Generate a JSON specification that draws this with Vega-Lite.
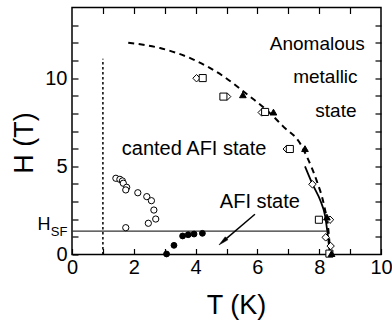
{
  "$schema": "https://vega.github.io/schema/vega-lite/v6.json",
  "width": 309,
  "height": 247,
  "autosize": "none",
  "padding": {"left": 72, "top": 7.5, "right": 11, "bottom": 69.5},
  "config": {
    "font": "Liberation Sans",
    "view": {"stroke": "black", "strokeWidth": 1.5},
    "axis": {
      "domain": false,
      "grid": false,
      "tickColor": "black",
      "tickWidth": 1.2,
      "tickSize": -6,
      "labelFont": "Liberation Sans",
      "labelFontSize": 20,
      "labelColor": "black",
      "labelOverlap": false,
      "labelFlush": false,
      "titleFont": "Liberation Sans",
      "titleFontSize": 27,
      "titleFontWeight": "normal",
      "titleColor": "black"
    }
  },
  "datasets": {
    "boundary_dashed": [
      {"i": 0, "T": 1.82, "H": 12.0},
      {"i": 1, "T": 2.85, "H": 11.7},
      {"i": 2, "T": 3.93, "H": 11.05},
      {"i": 3, "T": 4.9, "H": 10.1},
      {"i": 4, "T": 5.76, "H": 8.95},
      {"i": 5, "T": 6.3, "H": 8.19},
      {"i": 6, "T": 6.84, "H": 7.25},
      {"i": 7, "T": 7.38, "H": 6.3},
      {"i": 8, "T": 7.6, "H": 5.55},
      {"i": 9, "T": 7.92, "H": 4.17},
      {"i": 10, "T": 8.16, "H": 2.76},
      {"i": 11, "T": 8.3, "H": 1.34},
      {"i": 12, "T": 8.36, "H": 0.0}
    ],
    "boundary_solid": [
      {"i": 0, "T": 7.54, "H": 5.0},
      {"i": 1, "T": 7.78, "H": 4.0},
      {"i": 2, "T": 8.05, "H": 3.0},
      {"i": 3, "T": 8.19, "H": 2.2},
      {"i": 4, "T": 8.27, "H": 1.2},
      {"i": 5, "T": 8.33, "H": 0.3},
      {"i": 6, "T": 8.35, "H": 0.0}
    ],
    "points": [
      {"kind": "diamond", "T": 4.03, "H": 9.99},
      {"kind": "diamond", "T": 5.02, "H": 8.95},
      {"kind": "diamond", "T": 6.14, "H": 8.05},
      {"kind": "diamond", "T": 6.95, "H": 5.98},
      {"kind": "diamond", "T": 7.78, "H": 3.98},
      {"kind": "diamond", "T": 8.35, "H": 1.97},
      {"kind": "diamond", "T": 8.21, "H": 0.97},
      {"kind": "diamond", "T": 8.37, "H": 0.48},
      {"kind": "square", "T": 4.23, "H": 10.0},
      {"kind": "square", "T": 4.9, "H": 8.95},
      {"kind": "square", "T": 6.25, "H": 8.08},
      {"kind": "square", "T": 7.05, "H": 5.98},
      {"kind": "square", "T": 7.99, "H": 1.97},
      {"kind": "square", "T": 8.33, "H": 0.05},
      {"kind": "triangle", "T": 5.53, "H": 9.05},
      {"kind": "triangle", "T": 6.52, "H": 8.07},
      {"kind": "triangle", "T": 7.54, "H": 6.0},
      {"kind": "triangle", "T": 8.25, "H": 2.12},
      {"kind": "triangle", "T": 8.4, "H": 0.05},
      {"kind": "ring", "T": 1.42, "H": 4.32},
      {"kind": "ring", "T": 1.55, "H": 4.26},
      {"kind": "ring", "T": 1.63, "H": 4.17},
      {"kind": "ring", "T": 1.66, "H": 4.04},
      {"kind": "ring", "T": 1.77, "H": 3.81},
      {"kind": "ring", "T": 1.74, "H": 3.66},
      {"kind": "ring", "T": 2.13, "H": 3.5},
      {"kind": "ring", "T": 2.42, "H": 3.28},
      {"kind": "ring", "T": 2.57, "H": 3.05},
      {"kind": "ring", "T": 2.65, "H": 2.52},
      {"kind": "ring", "T": 2.71, "H": 2.01},
      {"kind": "ring", "T": 2.47, "H": 1.77},
      {"kind": "ring", "T": 1.74, "H": 1.52},
      {"kind": "dot", "T": 3.06, "H": 0.03},
      {"kind": "dot", "T": 3.3, "H": 0.52},
      {"kind": "dot", "T": 3.58, "H": 1.05},
      {"kind": "dot", "T": 3.76, "H": 1.12},
      {"kind": "dot", "T": 3.95, "H": 1.16},
      {"kind": "dot", "T": 4.22, "H": 1.2}
    ],
    "labels": [
      {"text": "Anomalous", "T": 7.94, "H": 11.59, "size": 19},
      {"text": "metallic", "T": 8.2, "H": 9.7, "size": 19},
      {"text": "state", "T": 8.54, "H": 7.81, "size": 19},
      {"text": "canted AFI state", "T": 3.95, "H": 5.64, "size": 20},
      {"text": "AFI state", "T": 6.08, "H": 2.62, "size": 20},
      {"text": "H", "T": -0.91, "H": 1.39, "size": 18},
      {"text": "SF", "T": -0.42, "H": 1.05, "size": 13}
    ]
  },
  "layer": [
    {
      "data": {"name": "boundary_dashed"},
      "mark": {"type": "line", "color": "black", "strokeWidth": 2, "strokeDash": [6, 4.5], "interpolate": "monotone"},
      "encoding": {
        "x": {
          "field": "T", "type": "quantitative",
          "scale": {"domain": [0, 10], "nice": false},
          "axis": {
            "orient": "bottom",
            "values": [0, 1, 2, 3, 4, 5, 6, 7, 8, 9, 10],
            "labelExpr": "datum.value % 2 === 0 ? datum.label : ''",
            "labelPadding": 9,
            "title": "T (K)",
            "titleX": 164,
            "titleY": 58.5,
            "titleBaseline": "alphabetic"
          }
        },
        "y": {
          "field": "H", "type": "quantitative",
          "scale": {"domain": [0, 14], "nice": false},
          "axis": {
            "orient": "left",
            "values": [0, 1, 2, 3, 4, 5, 6, 7, 8, 9, 10, 11, 12, 13],
            "labelExpr": "datum.value % 5 === 0 ? datum.label : ''",
            "labelPadding": 11,
            "title": "H (T)",
            "titleX": -40,
            "titleY": 135,
            "titleAngle": -90,
            "titleAlign": "center",
            "titleBaseline": "alphabetic"
          }
        },
        "order": {"field": "i", "type": "quantitative"}
      }
    },
    {
      "data": {"values": [{"T": 1, "H0": 0, "H1": 11.1}]},
      "mark": {"type": "rule", "color": "black", "strokeWidth": 1.5, "strokeDash": [2.5, 2.5]},
      "encoding": {
        "x": {
          "field": "T", "type": "quantitative",
          "axis": {"orient": "top", "values": [1, 2, 3, 4, 5, 6, 7, 8, 9], "labels": false, "title": null}
        },
        "y": {
          "field": "H0", "type": "quantitative",
          "axis": {"orient": "right", "values": [1, 2, 3, 4, 5, 6, 7, 8, 9, 10, 11, 12, 13], "labels": false, "title": null}
        },
        "y2": {"field": "H1"}
      }
    },
    {
      "data": {"values": [{"T0": 0, "T1": 8.24, "H": 1.33}]},
      "mark": {"type": "rule", "color": "#333333", "strokeWidth": 1.2},
      "encoding": {
        "x": {"field": "T0", "type": "quantitative", "axis": null},
        "x2": {"field": "T1"},
        "y": {"field": "H", "type": "quantitative", "axis": null}
      }
    },
    {
      "data": {"name": "boundary_solid"},
      "mark": {"type": "line", "color": "black", "strokeWidth": 1.8, "interpolate": "monotone"},
      "encoding": {
        "x": {"field": "T", "type": "quantitative", "axis": null},
        "y": {"field": "H", "type": "quantitative", "axis": null},
        "order": {"field": "i", "type": "quantitative"}
      }
    },
    {
      "data": {"values": [{"T0": 5.92, "H0": 2.28, "T1": 4.88, "H1": 0.73}]},
      "mark": {"type": "rule", "color": "black", "strokeWidth": 1.5},
      "encoding": {
        "x": {"field": "T0", "type": "quantitative", "axis": null},
        "y": {"field": "H0", "type": "quantitative", "axis": null},
        "x2": {"field": "T1"},
        "y2": {"field": "H1"}
      }
    },
    {
      "data": {"values": [{"T": 4.88, "H": 0.73}]},
      "mark": {"type": "point", "shape": "M0,-1L0.4,1L-0.4,1Z", "size": 100, "angle": 229, "filled": true, "fill": "black", "stroke": "black", "strokeWidth": 0.5, "opacity": 1},
      "encoding": {
        "x": {"field": "T", "type": "quantitative", "axis": null},
        "y": {"field": "H", "type": "quantitative", "axis": null}
      }
    },
    {
      "data": {"name": "points"},
      "mark": {"type": "point", "filled": true, "stroke": "black", "strokeWidth": 1, "opacity": 1},
      "encoding": {
        "x": {"field": "T", "type": "quantitative", "axis": null},
        "y": {"field": "H", "type": "quantitative", "axis": null},
        "shape": {
          "field": "kind", "type": "nominal", "legend": null,
          "scale": {"domain": ["diamond", "square", "triangle", "ring", "dot"], "range": ["diamond", "square", "triangle-up", "circle", "circle"]}
        },
        "fill": {
          "field": "kind", "type": "nominal", "legend": null,
          "scale": {"domain": ["diamond", "square", "triangle", "ring", "dot"], "range": ["white", "white", "black", "white", "black"]}
        },
        "size": {
          "field": "kind", "type": "nominal", "legend": null,
          "scale": {"domain": ["diamond", "square", "triangle", "ring", "dot"], "range": [55, 34, 50, 16, 14]}
        }
      }
    },
    {
      "data": {"name": "labels"},
      "mark": {"type": "text", "color": "black", "baseline": "alphabetic", "align": "center", "font": "Liberation Sans"},
      "encoding": {
        "x": {"field": "T", "type": "quantitative", "axis": null},
        "y": {"field": "H", "type": "quantitative", "axis": null},
        "text": {"field": "text"},
        "size": {"field": "size", "type": "quantitative", "scale": null}
      }
    }
  ],
  "resolve": {"axis": {"x": "independent", "y": "independent"}}
}
